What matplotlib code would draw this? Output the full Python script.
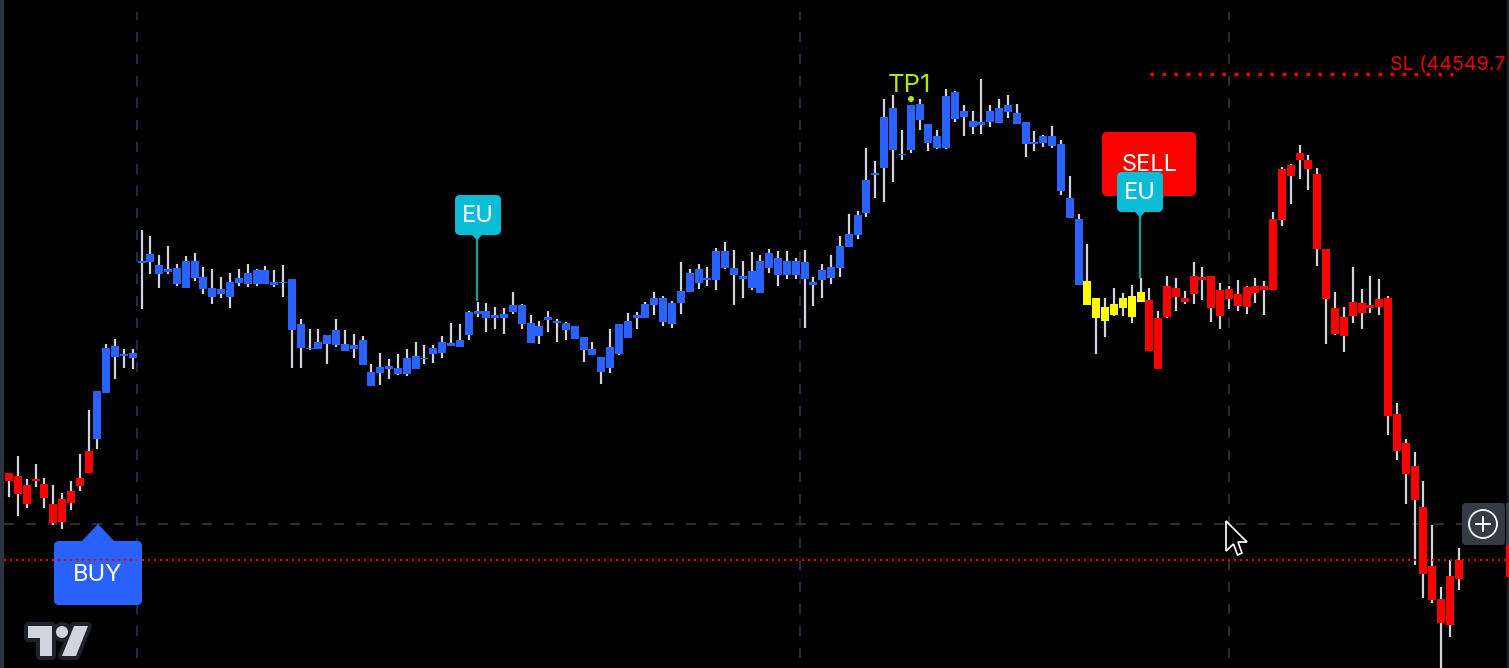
"""Trading chart screenshot: candles with BUY/SELL/EU labels on a black pane."""
import matplotlib
matplotlib.use("Agg")
import matplotlib.pyplot as plt
import numpy as np
from matplotlib.patches import Circle, FancyBboxPatch, Polygon, Rectangle

BLUE = "#2962FF"
RED = "#FF0000"
YELLOW = "#FFFF00"
WICK = "#D1D4DC"
CYAN = "#0ABCD6"
NAVY = "#1B2C4C"
GREY = "#2B2D33"
PANEL = "#363A45"
LIME = "#AEEA00"

# values, as chart rows (the pane has no price scale)
wick_tops = [
    473, 456, 479, 464, 478, 485, 493, 481, 454, 410,
    391, 344, 339, 349, 349, 230, 236, 255, 246, 264,
    256, 253, 267, 269, 277, 273, 269, 264, 269, 266,
    270, 265, 279, 319, 329, 329, 335, 319, 330, 334,
    336, 364, 353, 359, 354, 349, 342, 345, 345, 336,
    323, 324, 311, 302, 303, 307, 308, 292, 304, 315,
    321, 311, 319, 322, 326, 337, 342, 357, 329, 324,
    313, 312, 302, 292, 296, 301, 262, 269, 264, 267,
    248, 242, 250, 261, 252, 255, 249, 251, 251, 258,
    250, 277, 264, 255, 236, 214, 211, 148, 161, 99,
    95, 130, 105, 99, 124, 130, 89, 91, 105, 111,
    79, 105, 99, 95, 104, 122, 131, 135, 126, 140,
    176, 214,
    244, 298, 298, 288, 293, 285, 278,
    288, 311, 276, 278, 291, 262, 267, 276, 283, 286,
    280, 286, 278, 281, 212, 167, 164, 145, 155, 168,
    249, 292, 307, 267, 289, 276, 279, 296, 403, 439,
    452, 481, 525, 587, 560, 548,
]
wick_bottoms = [
    497, 516, 508, 487, 508, 525, 529, 510, 491, 473,
    449, 393, 379, 368, 369, 309, 274, 288, 274, 286,
    288, 281, 294, 304, 298, 308, 286, 287, 286, 284,
    287, 297, 368, 368, 350, 349, 364, 347, 351, 358,
    365, 386, 385, 379, 375, 376, 369, 364, 363, 358,
    346, 347, 340, 317, 332, 329, 334, 314, 329, 343,
    344, 332, 342, 340, 339, 362, 355, 384, 373, 355,
    338, 329, 318, 315, 326, 328, 314, 292, 289, 286,
    290, 269, 305, 298, 290, 293, 273, 286, 279, 279,
    328, 306, 298, 284, 277, 247, 239, 217, 198, 202,
    182, 160, 153, 130, 151, 149, 149, 122, 136, 134,
    134, 127, 123, 118, 124, 157, 151, 147, 148, 195,
    218, 285,
    305, 354, 337, 316, 316, 323, 302,
    351, 369, 318, 311, 304, 304, 300, 322, 329, 309,
    311, 314, 303, 315, 290, 226, 204, 179, 190, 266,
    344, 335, 352, 323, 329, 313, 315, 435, 460, 504,
    565, 598, 603, 668, 637, 590,
]
body_tops = [
    473, 476, 485, 479, 484, 504, 499, 491, 478, 451,
    391, 348, 346, 354, 353, 261, 254, 265, 269, 268,
    261, 261, 277, 288, 289, 282, 278, 273, 270, 270,
    282, 282, 279, 324, 348, 342, 335, 330, 344, 345,
    340, 372, 367, 366, 368, 358, 356, 358, 348, 342,
    343, 340, 312, 311, 311, 315, 314, 305, 305, 323,
    326, 317, 321, 323, 326, 337, 349, 357, 347, 324,
    321, 315, 304, 298, 298, 303, 291, 273, 269, 278,
    251, 251, 268, 276, 271, 261, 253, 258, 261, 261,
    262, 282, 270, 267, 246, 234, 215, 180, 173, 117,
    108, 154, 105, 104, 124, 136, 96, 92, 111, 121,
    122, 111, 108, 105, 113, 122, 142, 136, 136, 144,
    198, 219,
    281, 298, 307, 304, 298, 296, 292,
    300, 318, 286, 288, 298, 276, 277, 276, 290, 289,
    294, 287, 286, 286, 219, 169, 165, 153, 160, 174,
    249, 308, 317, 302, 303, 305, 299, 298, 414, 443,
    466, 507, 566, 599, 576, 560,
]
body_bottoms = [
    481, 494, 504, 481, 498, 523, 522, 503, 486, 473,
    439, 393, 357, 356, 358, 263, 262, 274, 272, 284,
    288, 278, 289, 297, 294, 297, 283, 284, 284, 284,
    285, 283, 330, 348, 349, 349, 344, 345, 351, 349,
    365, 386, 373, 369, 374, 374, 369, 359, 354, 353,
    346, 347, 335, 314, 318, 318, 318, 312, 324, 343,
    336, 320, 323, 330, 339, 350, 355, 372, 368, 354,
    338, 318, 318, 305, 322, 324, 303, 292, 283, 280,
    280, 268, 275, 279, 288, 293, 268, 275, 275, 275,
    279, 285, 280, 278, 268, 247, 235, 213, 175, 168,
    150, 155, 150, 120, 143, 148, 148, 119, 117, 127,
    125, 122, 123, 112, 124, 144, 144, 143, 146, 191,
    218, 285,
    305, 318, 321, 315, 308, 317, 302,
    351, 369, 317, 297, 302, 294, 280, 308, 316, 299,
    306, 307, 293, 290, 290, 220, 176, 160, 169, 249,
    299, 334, 336, 316, 313, 308, 307, 416, 451, 474,
    500, 574, 600, 623, 625, 579,
]
candle_colors = [RED] * 10 + [BLUE] * 112 + [YELLOW] * 7 + [RED] * 36

FIRST_X = 9
STEP_X = 8.84
BODY_W = 8
PX = 0.72  # one pixel in points at dpi 100

plt.rcParams["font.family"] = ["Inter", "DejaVu Sans"]
plt.rcParams["lines.scale_dashes"] = False

fig = plt.figure(figsize=(15.09, 6.68), dpi=100, facecolor="black")
ax = fig.add_axes([0, 0, 1, 1])
ax.set_xlim(0, 1509)
ax.set_ylim(668, 0)
ax.set_facecolor("black")
ax.axis("off")


def dashed(xs, ys, color, on, off, lw=2, z=1, offset=0):
    ax.plot(xs, ys, color=color, lw=lw * PX, zorder=z, solid_capstyle="butt",
            dash_capstyle="butt", linestyle=(offset * PX, (on * PX, off * PX)))


def label_box(x0, y0, x1, y1, color, z, radius=5):
    ax.add_patch(FancyBboxPatch((x0, y0), x1 - x0, y1 - y0, facecolor=color, edgecolor="none",
                                boxstyle=f"round,pad=0,rounding_size={radius}", zorder=z))


# session lines and crosshair
dashed([137, 137], [12, 660], NAVY, 10, 12, offset=2)
dashed([800, 800], [12, 660], NAVY, 10, 12, offset=2)
dashed([1229, 1229], [12, 660], GREY, 10, 12, offset=2)
dashed([4, 1462], [524, 524], GREY, 10, 12, offset=0)

# candles
xs = np.round(FIRST_X + STEP_X * np.arange(len(wick_tops)))
ax.vlines(xs, wick_tops, wick_bottoms, color=WICK, lw=2.2 * PX, zorder=2)
ax.bar(xs, np.array(body_bottoms) - np.array(body_tops), width=BODY_W, bottom=body_tops,
       color=candle_colors, linewidth=0, zorder=3)

# SL level and entry level
dashed([1150, 1453], [73.5, 73.5], RED, 3.4, 8.6, lw=3.4, z=4)
ax.text(1390, 70, "SL (44549.7", color="#E60000", fontsize=14.2, va="baseline", ha="left", zorder=4)

# SELL marker, EU label above it
label_box(1102, 132, 1196, 196, RED, 5)
ax.add_patch(Polygon([(1132, 195), (1166, 195), (1149, 213)], facecolor=RED, edgecolor="none", zorder=5))
ax.text(1149.5, 165, "SELL", color="white", fontsize=17, ha="center", va="center", zorder=6)

# BUY marker
label_box(54, 541, 142, 605, BLUE, 5)
ax.add_patch(Polygon([(81, 542), (115, 542), (98, 524)], facecolor=BLUE, edgecolor="none", zorder=5))
ax.text(97.5, 575, "BUY", color="white", fontsize=17, ha="center", va="center", zorder=6)

# entry line runs over the BUY box
dashed([4, 1509], [560, 560], RED, 2, 4, lw=2, z=7)

# EU labels
for cx, left, top, stem_end in [(477, 455, 195, 301), (1140, 1117, 172, 278)]:
    ax.plot([cx, cx], [top + 40, stem_end], color="#26918F", lw=2.4 * PX, zorder=7, solid_capstyle="butt")
    label_box(left, top, left + 46, top + 40, CYAN, 8)
    ax.add_patch(Polygon([(cx - 6, top + 39), (cx + 6, top + 39), (cx, top + 45)],
                         facecolor=CYAN, edgecolor="none", zorder=8))
    ax.text(left + 22.5, top + 21, "EU", color="white", fontsize=17, ha="center", va="center", zorder=9)

# TP1 mark
ax.text(909.5, 85, "TP1", color=LIME, fontsize=18.5, ha="center", va="center", zorder=6)
ax.add_patch(Circle((911, 99), 3, facecolor=LIME, edgecolor="none", zorder=6))

# chart edges
ax.add_patch(Rectangle((0, 0), 4, 668, facecolor="#2E323E", edgecolor="none", zorder=10))
ax.plot([1507.5, 1507.5], [0, 668], color="#1C1F26", lw=2 * PX, zorder=1)
ax.add_patch(Rectangle((1506, 545), 3, 32, facecolor=RED, edgecolor="none", zorder=3))

# zoom button
label_box(1462, 503, 1505, 545, PANEL, 10, radius=4)
ax.add_patch(Rectangle((1506, 503), 3, 42, facecolor=PANEL, edgecolor="none", zorder=10))
ax.add_patch(Circle((1483, 524), 14, facecolor="none", edgecolor="white", lw=1.8 * PX, zorder=11))
ax.plot([1475, 1491], [524, 524], color="white", lw=2 * PX, zorder=11, solid_capstyle="butt")
ax.plot([1483, 1483], [516, 532], color="white", lw=2 * PX, zorder=11, solid_capstyle="butt")

# mouse cursor
ax.add_patch(Polygon([(1226, 521), (1226, 551), (1233.5, 544), (1237.5, 555), (1242, 553), (1238, 542), (1247, 542)],
                     closed=True, facecolor="black", edgecolor="white", lw=1.7 * PX, zorder=12))

# TradingView logo
logo_t = [(28, 626), (52, 626), (52, 656), (40, 656), (40, 638), (28, 638)]
logo_slash = [(74, 626), (88, 626), (76, 656), (62, 656)]
for shape in (logo_t, logo_slash):
    ax.add_patch(Polygon(shape, facecolor="#1E222D", edgecolor="#1E222D", lw=8 * PX, joinstyle="round", zorder=9))
ax.add_patch(Circle((62, 632), 6, facecolor="#1E222D", edgecolor="#1E222D", lw=8 * PX, zorder=9))
for shape in (logo_t, logo_slash):
    ax.add_patch(Polygon(shape, facecolor="#D1D4DC", edgecolor="none", zorder=10))
ax.add_patch(Circle((62, 632), 6, facecolor="#D1D4DC", edgecolor="none", zorder=10))

fig.savefig("out.png", dpi=100, facecolor="black")
